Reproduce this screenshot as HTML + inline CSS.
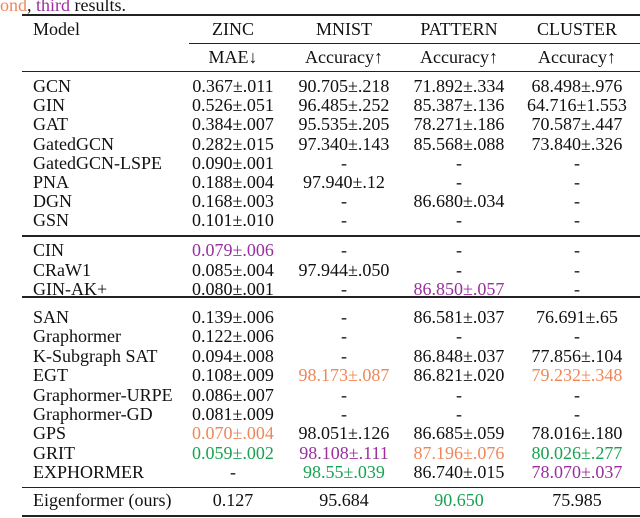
<!DOCTYPE html>
<html><head><meta charset="utf-8">
<style>
html,body{margin:0;padding:0;background:#fff;}
#root{position:relative;width:640px;height:518px;overflow:hidden;font-family:"Liberation Serif",serif;font-size:18px;color:#111;}
.t{position:absolute;white-space:nowrap;line-height:20px;height:20px;}
.c{transform:translateX(-50%);}
.rule{position:absolute;background:#222;right:0;}
.o{color:#f0875a;}.p{color:#9a2f9e;}.g{color:#17a351;}
</style></head>
<body>
<div id="root">
<div class="t" style="left:0;top:-5px"><span class="o">ond</span>, <span class="p">third</span> results.</div>
<div class="rule" style="left:22px;top:14px;height:2px"></div>
<div class="rule" style="left:189px;top:43px;height:1px"></div>
<div class="rule" style="left:22px;top:71px;height:1px"></div>
<div class="rule" style="left:22px;top:235px;height:1.5px"></div>
<div class="rule" style="left:22px;top:296px;height:1.5px"></div>
<div class="rule" style="left:22px;top:487px;height:1px"></div>
<div class="rule" style="left:22px;top:515px;height:2px"></div>
</div>
<script>
const colX=[233,344,459,577];
const headers=["ZINC","MNIST","PATTERN","CLUSTER"];
const metrics=["MAE\u2193","Accuracy\u2191","Accuracy\u2191","Accuracy\u2191"];
const models=["GCN","GIN","GAT","GatedGCN","GatedGCN-LSPE","PNA","DGN","GSN","CIN","CRaW1","GIN-AK+","SAN","Graphormer","K-Subgraph SAT","EGT","Graphormer-URPE","Graphormer-GD","GPS","GRIT","EXPHORMER","Eigenformer (ours)"];
const zinc=["0.367±.011","0.526±.051","0.384±.007","0.282±.015","0.090±.001","0.188±.004","0.168±.003","0.101±.010","p0.079±.006","0.085±.004","0.080±.001","0.139±.006","0.122±.006","0.094±.008","0.108±.009","0.086±.007","0.081±.009","o0.070±.004","g0.059±.002","-","0.127"];
const mnist=["90.705±.218","96.485±.252","95.535±.205","97.340±.143","-","97.940±.12","-","-","-","97.944±.050","-","-","-","-","o98.173±.087","-","-","98.051±.126","p98.108±.111","g98.55±.039","95.684"];
const pattern=["71.892±.334","85.387±.136","78.271±.186","85.568±.088","-","-","86.680±.034","-","-","-","p86.850±.057","86.581±.037","-","86.848±.037","86.821±.020","-","-","86.685±.059","o87.196±.076","86.740±.015","g90.650"];
const cluster=["68.498±.976","64.716±1.553","70.587±.447","73.840±.326","-","-","-","-","-","-","-","76.691±.65","-","77.856±.104","o79.232±.348","-","-","78.016±.180","g80.026±.277","p78.070±.037","75.985"];
const rowY=[86,105.2,124.4,143.6,162.8,182,201.2,220.4,250,269.5,289,317,336.4,355.8,375.2,394.6,414,433.4,452.8,472.2,500];
const root=document.getElementById('root');
function put(txt,x,y,center,name){
  const d=document.createElement('div');
  d.className='t'+(center?' c':'');
  let cls='';
  if(/^[opg]/.test(txt)){cls=txt[0];txt=txt.slice(1);}
  if(cls)d.classList.add(cls);
  d.textContent=txt;
  d.style.left=x+'px';d.style.top=(y-10)+'px';
  
  
  root.appendChild(d);
}
put("Model",33,29,false,"model-header");
headers.forEach((h,i)=>put(h,colX[i],29,true,"header-"+h.toLowerCase()));
metrics.forEach((m,i)=>put(m,colX[i],57,true,"metric-"+headers[i].toLowerCase()));
const cols=[zinc,mnist,pattern,cluster];
models.forEach((m,r)=>{
  put(m,33,rowY[r],false,"model-name");
  cols.forEach((col,i)=>put(col[r],colX[i],rowY[r],true,"cell-"+headers[i].toLowerCase()));
});
</script>
</body></html>
